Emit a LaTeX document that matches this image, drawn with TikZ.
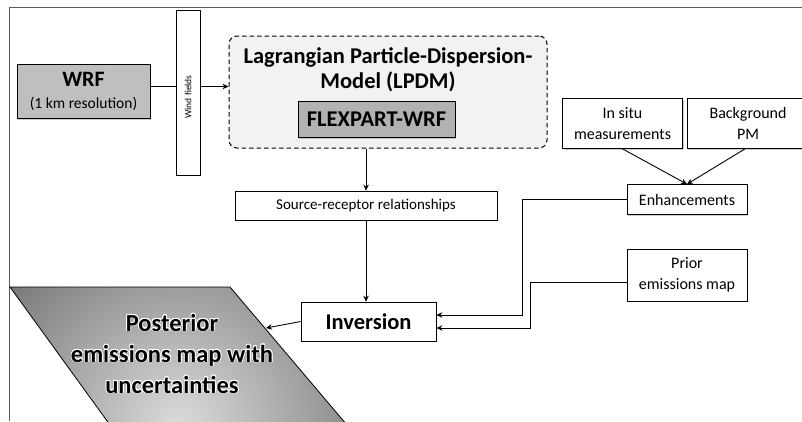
\documentclass[tikz,border=0pt]{standalone}
\usepackage{fontspec}
\setmainfont{Carlito}
\usepackage{contour}
\usetikzlibrary{shadows}
\usetikzlibrary{arrows.meta}
\contourlength{0.7pt}

\begin{document}
\begin{tikzpicture}[x=1pt, y=-1pt,
  box/.style={draw, line width=0.7pt, fill=white, inner sep=0pt, align=center,
    drop shadow={shadow xshift=1.2pt, shadow yshift=-1.2pt, opacity=0.4}},
  conn/.style={line width=0.9pt},
  >={Stealth[length=6pt, width=5.5pt, inset=2pt]}]
\useasboundingbox (0,0) rectangle (802,421);
\clip (0,0) rectangle (802,421);
\fill[white] (0,0) rectangle (802,421);
\draw[black!65, line width=0.8pt] (9,421) -- (9,7) -- (802,7);

\node[box, fill=black!25, minimum width=133pt, minimum height=54pt,
  font=\fontsize{15.5}{22}\selectfont] (wrf) at (83.5,91.5)
  {{\fontsize{22}{22}\selectfont\bfseries WRF}\\(1 km resolution)};
\node[box, minimum width=24pt, minimum height=165pt] (wind) at (188,92.5) {};
\node[rotate=90, font=\fontsize{9.5}{11}\selectfont] (windlabel) at (188,97) {Wind fields};

\node[draw=black, dash pattern=on 4.5pt off 3pt, line width=1pt, rounded corners=8pt, fill=black!5,
  minimum width=318pt, minimum height=112pt] (lpdm) at (388,92) {};
\node[font=\fontsize{22.5}{25.5}\selectfont\bfseries, align=center] (lpdmtitle) at (388,70)
  {Lagrangian Particle-Dispersion-\\Model (LPDM)};
\node[box, fill=black!30, minimum width=157pt, minimum height=36pt,
  font=\fontsize{22.5}{24}\selectfont\bfseries] (flex) at (376.5,119.5) {FLEXPART-WRF};

\node[box, minimum width=262pt, minimum height=29pt, font=\fontsize{15}{17}\selectfont]
  (src) at (366,205.5) {Source-receptor relationships};
\node[box, minimum width=135pt, minimum height=39pt, font=\fontsize{22.5}{24}\selectfont\bfseries]
  (inv) at (368.5,321.5) {Inversion};

\node[box, minimum width=120pt, minimum height=50pt, font=\fontsize{16}{21}\selectfont]
  (insitu) at (622.5,123.5) {In situ\\measurements};
\node[box, minimum width=122pt, minimum height=50pt, font=\fontsize{16}{21}\selectfont]
  (bg) at (748,123.5) {Background\\PM};
\node[box, minimum width=120pt, minimum height=30pt, font=\fontsize{16}{21}\selectfont]
  (enh) at (687,199.5) {Enhancements};
\node[box, minimum width=120pt, minimum height=52pt, font=\fontsize{16}{21}\selectfont]
  (prior) at (687,275) {Prior\\emissions map};

% posterior map
\begin{scope}
\clip (10,287) -- (230,287) -- (347,425) -- (110,425) -- cycle;
\shade[inner color=black!14, outer color=black!58] (178,425) circle (250);
\end{scope}
\draw[line width=0.8pt] (10,287) -- (230,287) -- (347,425) -- (110,425) -- cycle;
\node[font=\fontsize{24.5}{31}\selectfont\bfseries, align=center] (post) at (172,354)
  {\contour{white}{Posterior}\\\contour{white}{emissions map with}\\\contour{white}{uncertainties}};
\coordinate (postin) at (266,328);

\coordinate (wfin) at ([yshift=5pt]wrf.east);
\draw[conn] (wfin) -- (wfin -| wind.west);
\draw[conn,->] (wfin -| wind.east) -- (wfin -| lpdm.west);
\draw[conn,->] (lpdm.south -| src.north) -- (src.north);
\draw[conn,->] (src.south) -- (src.south |- inv.north);
\draw[conn,->] (insitu.south) -- (enh.north);
\draw[conn,->] ([xshift=-3pt]bg.south) -- (enh.north);
\draw[conn,->] (enh.west) -- ++(-104,0) |- ([yshift=6.5pt]inv.east);
\draw[conn,->] ([yshift=-7pt]prior.west) -- ++(-96,0) |- ([yshift=-6.5pt]inv.east);
\draw[conn,->] (inv.west) -- (postin);
\end{tikzpicture}
\end{document}
